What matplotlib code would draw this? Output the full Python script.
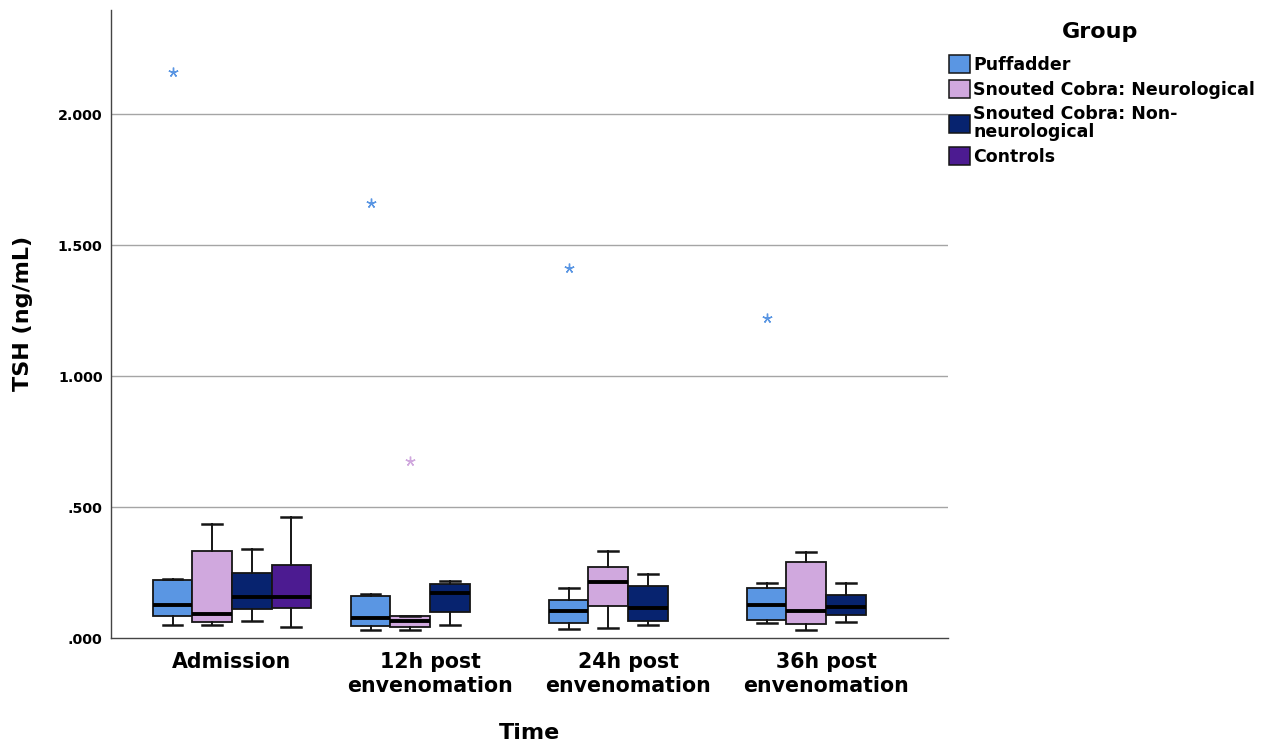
import matplotlib
matplotlib.use("Agg")
import matplotlib.pyplot as plt
from matplotlib.patches import Patch

plt.rcParams["font.family"] = ["DejaVu Sans"]

times = ["Admission", "12h post\nenvenomation", "24h post\nenvenomation", "36h post\nenvenomation"]
groups = ["Puffadder", "Snouted Cobra: Neurological",
          "Snouted Cobra: Non-\nneurological", "Controls"]
colors = ["#5A96E3", "#D0A8DE", "#07236F", "#4C1B91"]

# (lower whisker, Q1, median, Q3, upper whisker) per time point; None = no data
puffadder = [(0.048, 0.084, 0.125, 0.221, 0.225),
             (0.029, 0.047, 0.078, 0.162, 0.167),
             (0.036, 0.056, 0.103, 0.146, 0.190),
             (0.056, 0.070, 0.126, 0.190, 0.211)]
neuro = [(0.048, 0.061, 0.090, 0.332, 0.435),
         (0.029, 0.043, 0.064, 0.085, 0.085),
         (0.038, 0.122, 0.213, 0.272, 0.332),
         (0.031, 0.055, 0.103, 0.291, 0.329)]
non_neuro = [(0.065, 0.110, 0.155, 0.247, 0.339),
             (0.050, 0.098, 0.171, 0.206, 0.219),
             (0.051, 0.064, 0.115, 0.197, 0.244),
             (0.062, 0.087, 0.117, 0.163, 0.209)]
controls = [(0.043, 0.113, 0.158, 0.279, 0.461), None, None, None]

# extreme values (asterisks)
puffadder_extremes = [[2.160], [1.660], [1.412], [1.221]]
neuro_extremes = [[], [0.676], [], []]
non_neuro_extremes = [[], [], [], []]
controls_extremes = [[], [], [], []]

yticks = [0.0, 0.5, 1.0, 1.5, 2.0]
yticklabels = [".000", ".500", "1.000", "1.500", "2.000"]

series = [(puffadder, puffadder_extremes), (neuro, neuro_extremes),
          (non_neuro, non_neuro_extremes), (controls, controls_extremes)]

fig = plt.figure(figsize=(12.64, 7.44), dpi=100)
ax = fig.add_axes([111 / 1264, 1 - 638 / 744, 837 / 1264, 628 / 744])

width = 0.2
offsets = [-0.3, -0.1, 0.1, 0.3]
edge = "#151515"
for gi, ((stats, extremes), color) in enumerate(zip(series, colors)):
    bstats, pos = [], []
    for ti, s in enumerate(stats):
        if s is None:
            continue
        lo, q1, med, q3, hi = s
        bstats.append(dict(whislo=lo, q1=q1, med=med, q3=q3, whishi=hi,
                           fliers=extremes[ti]))
        pos.append(ti + offsets[gi])
    ax.bxp(bstats, positions=pos, widths=width, patch_artist=True,
           showfliers=True,
           boxprops=dict(facecolor=color, edgecolor=edge, linewidth=1.3),
           medianprops=dict(color="black", linewidth=2.8, solid_capstyle="butt"),
           whiskerprops=dict(color=edge, linewidth=1.4),
           capprops=dict(color=edge, linewidth=1.8),
           flierprops=dict(marker=(5, 2), markersize=7, markeredgewidth=1.0,
                           markeredgecolor=color, linestyle="none"),
           zorder=3)

ax.set_xlim(-0.611, 3.616)
ax.set_ylim(0, 2.397)
ax.set_yticks(yticks)
ax.set_yticklabels(yticklabels, fontsize=10.3, fontweight="bold")
ax.set_xticks(range(len(times)))
ax.set_xticklabels(times, fontsize=14.8, fontweight="bold", linespacing=1.25)
ax.tick_params(axis="both", length=0)
ax.tick_params(axis="y", pad=6)
ax.tick_params(axis="x", pad=10)

for y in yticks[1:]:
    ax.axhline(y, color="#A5A5A5", linewidth=1.0, zorder=1)

for side in ["top", "right"]:
    ax.spines[side].set_visible(False)
for side in ["left", "bottom"]:
    ax.spines[side].set_color("#444444")
    ax.spines[side].set_linewidth(1.0)

ax.set_ylabel("TSH (ng/mL)", fontsize=16, fontweight="bold", va="center")
ax.yaxis.set_label_coords(-0.105, 0.517)
ax.set_xlabel("Time", fontsize=16, fontweight="bold", va="center")
ax.xaxis.set_label_coords(0.5, -0.151)

fig.text(1100 / 1264, 1 - 32 / 744, "Group", fontsize=16, fontweight="bold",
         ha="center", va="center")
handles = [Patch(facecolor=c, edgecolor=edge, linewidth=1.1) for c in colors]
leg = fig.legend(handles, groups, loc="upper left",
                 bbox_to_anchor=(949 / 1264, 1 - 55 / 744),
                 frameon=False, borderpad=0, borderaxespad=0,
                 handlelength=1.2, handleheight=1.2, handletextpad=0.2,
                 labelspacing=0.35,
                 prop=dict(size=12.5, weight="bold"))
for t in leg.get_texts():
    t.set_linespacing(1.0)

fig.savefig("out.png", dpi=100)
